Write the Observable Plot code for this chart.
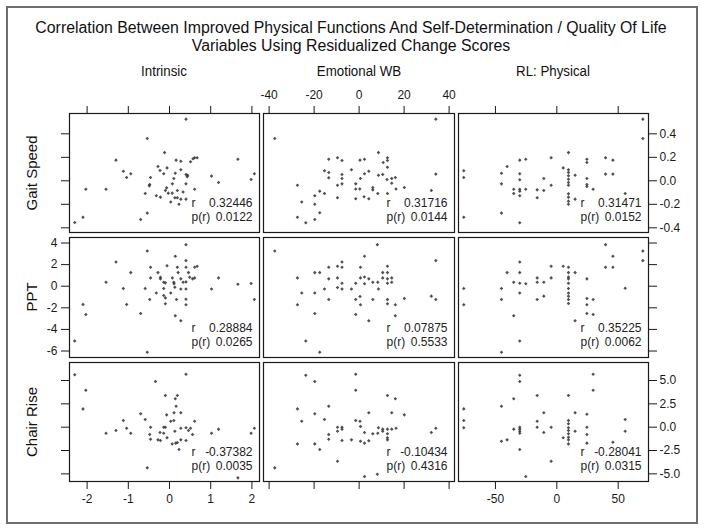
<!DOCTYPE html>
<html><head><meta charset="utf-8">
<script src="https://cdn.jsdelivr.net/npm/d3@7"></script>
<script src="https://cdn.jsdelivr.net/npm/@observablehq/plot@0.6"></script>
<style>
body{margin:0;background:#fff;font-family:"Liberation Sans",Arial,sans-serif;}
#root{position:relative;width:704px;height:531px;overflow:hidden;background:#fff;}
.frame{position:absolute;left:6px;top:6px;width:692px;height:518px;border:2px solid #6e6e6e;box-sizing:border-box;}
.t{position:absolute;white-space:nowrap;color:#111;line-height:1;}
.cell{position:absolute;}
</style></head><body><div id="root"><div class="frame"></div></div><script>
// ---------- labels ----------
const titleLines = ["Correlation Between Improved Physical Functions And Self-Determination / Quality Of Life",
                    "Variables Using Residualized Change Scores"];
const colNames = ["Intrinsic", "Emotional WB", "RL: Physical"];
const rowNames = ["Gait Speed", "PPT", "Chair Rise"];
// ---------- tick values ----------
const intrinsicTicks = [-2, -1, 0, 1, 2];
const emotionalTicks = [-40, -20, 0, 20, 40];
const physicalTicks = [-50, 0, 50];
const gaitTicks = [0.4, 0.2, 0, -0.2, -0.4];
const pptTicks = [4, 2, 0, -2, -4, -6];
const chairTicks = [5, 2.5, 0, -2.5, -5];
// ---------- correlations ----------
const rValues = [["0.32446","0.31716","0.31471"],["0.28884","0.07875","0.35225"],["-0.37382","-0.10434","-0.28041"]];
const pValues = [["0.0122","0.0144","0.0152"],["0.0265","0.5533","0.0062"],["0.0035","0.4316","0.0315"]];
// ---------- points [x, y] ----------
const gaitIntrinsic = [[0.40,0.525],[-0.54,0.36],[-0.12,0.24],[-1.30,0.176],[0.16,0.176],[0.275,0.167],[0.51,0.162],[0.57,0.187],[0.61,0.196],[0.67,0.196],[1.66,0.184],[-1.12,0.082],[-0.94,0.06],[-1.04,0.028],[-0.28,0.122],[-0.23,0.088],[-0.06,0.11],[-0.14,0.06],[0.14,0.065],[0.275,0.094],[0.40,0.054],[0.44,0.048],[0.43,0.034],[1.02,0.04],[1.19,-0.014],[1.98,0.011],[2.06,0.06],[-0.46,0.028],[0.105,0.02],[0.07,-0.026],[0.40,-0.026],[-0.49,-0.043],[-0.48,-0.031],[-2.03,-0.071],[-1.54,-0.071],[-0.07,-0.06],[-0.10,-0.082],[0.19,-0.082],[0.61,-0.071],[-0.59,-0.108],[-0.32,-0.128],[-0.22,-0.139],[-0.03,-0.105],[0.065,-0.105],[0.13,-0.145],[0.19,-0.145],[0.275,-0.156],[0.40,-0.156],[0.03,-0.18],[0.23,-0.20],[-0.54,-0.275],[-0.70,-0.33],[-2.10,-0.31],[-2.30,-0.355],[0.33,-0.096]];
const gaitEmotional = [[-37.5,0.36],[34.1,0.525],[34.1,0.057],[32.1,-0.082],[8.6,0.24],[12.6,0.196],[12.6,0.173],[10.7,0.156],[12.6,0.116],[10.5,0.054],[8.6,0.048],[12.4,0.011],[14.5,0.02],[16.1,0.028],[14.5,-0.02],[16.4,-0.07],[20.1,-0.057],[12.6,-0.108],[8.3,-0.108],[6.1,-0.077],[6.1,-0.057],[2.2,-0.136],[4.3,-0.153],[-1.5,-0.153],[0.3,-0.07],[-1.5,-0.07],[-1.5,-0.026],[0.6,0.02],[2.4,0.06],[4.3,0.082],[-3.4,0.094],[0.4,0.176],[2.4,0.184],[-7.6,0.173],[-9.6,0.196],[-13.5,0.184],[-15.4,0.085],[-13.5,0.071],[-13.5,0.026],[-7.6,0.054],[-7.6,0.02],[-7.6,-0.026],[-9.6,-0.037],[-9.6,-0.145],[-17.5,-0.088],[-15.4,-0.108],[-19.7,-0.128],[-19.7,-0.199],[-17.5,-0.272],[-19.7,-0.33],[-23.7,-0.357],[-27.4,-0.31],[-25.5,-0.18],[-27.4,-0.037]];
const gaitPhysical = [[-75.8,0.085],[-75.8,0.028],[-75.8,-0.31],[70.1,0.525],[70.1,0.36],[-45.1,0.065],[-45.1,-0.026],[-45.1,-0.275],[-40.5,0.122],[-30.2,0.176],[-25.3,0.184],[-30.2,0.06],[-30.2,0.009],[-35.1,-0.071],[-35.1,-0.108],[-30.2,-0.071],[-30.2,-0.088],[-30.2,-0.128],[-25.3,-0.071],[-30.2,-0.357],[-16.0,-0.077],[-16.0,-0.145],[-10.6,0.02],[-10.6,-0.082],[-4.6,0.196],[-4.6,-0.037],[5.2,0.11],[9.5,0.24],[9.5,0.094],[9.5,0.071],[9.5,0.043],[9.5,0.014],[9.5,-0.014],[9.5,-0.037],[9.5,-0.11],[9.5,-0.139],[9.5,-0.173],[9.5,-0.199],[14.9,0.048],[14.9,-0.156],[24.5,0.184],[24.5,0.156],[24.5,0.02],[24.5,-0.031],[24.5,-0.048],[29.6,-0.071],[39.7,0.196],[45.7,0.176],[39.7,0.057],[45.7,0.057],[55.7,-0.108]];
const pptIntrinsic = [[0.40,3.85],[-0.54,3.26],[0.14,2.77],[-1.30,2.25],[0.40,2.37],[0.40,1.75],[0.67,1.85],[0.61,1.75],[-0.46,1.75],[-0.06,1.9],[0.19,1.75],[-0.94,1.26],[-0.28,1.26],[0.21,1.26],[0.46,1.26],[-0.22,0.83],[-0.22,0.68],[-0.46,0.77],[0.07,0.77],[0.275,0.68],[0.49,0.83],[0.56,0.68],[0.61,0.77],[1.19,0.77],[-1.54,0.37],[-0.14,0.37],[-0.10,0.31],[0.105,0.37],[0.11,0.22],[0.33,0.37],[0.40,0.4],[1.66,0.18],[1.98,0.25],[-1.12,-0.22],[-0.59,-0.22],[-0.14,-0.22],[0.13,-0.09],[0.275,-0.25],[0.40,-0.25],[1.02,-0.25],[-0.32,-0.62],[0.03,-0.62],[-0.14,-0.86],[-0.10,-1.08],[-0.48,-1.23],[0.17,-1.23],[0.40,-1.2],[2.06,-1.23],[-0.10,-1.63],[0.40,-1.72],[-1.04,-1.69],[-2.10,-1.69],[-2.03,-2.62],[-0.70,-2.52],[0.14,-2.74],[0.275,-3.2],[-2.30,-5.08],[-0.54,-6.12]];
const pptEmotional = [[-37.5,3.26],[8.1,3.85],[2.4,2.77],[34.1,2.37],[-7.6,2.25],[-9.6,1.85],[-7.6,1.75],[-13.5,1.75],[0.6,1.75],[12.6,1.85],[-19.7,1.26],[-17.5,1.26],[10.5,1.26],[12.6,1.26],[-27.4,0.77],[-13.5,0.68],[-9.6,0.77],[0.6,0.77],[2.4,0.86],[4.3,0.68],[10.5,0.77],[12.6,0.68],[14.5,0.77],[-7.6,0.28],[-1.5,0.28],[2.4,0.22],[6.1,0.37],[8.3,0.37],[12.6,0.28],[14.5,0.37],[-9.6,-0.12],[-15.4,-0.25],[-7.6,-0.25],[-3.4,-0.25],[8.6,-0.25],[-25.5,-0.62],[-19.7,-0.62],[0.4,-0.95],[-13.5,-1.23],[-1.5,-1.23],[6.1,-1.23],[12.6,-1.23],[20.1,-1.14],[32.1,-0.92],[34.1,-1.23],[-27.4,-1.72],[0.6,-1.72],[12.6,-1.63],[16.1,-1.72],[-19.7,-2.52],[-1.5,-2.62],[16.1,-2.74],[4.3,-3.2],[-23.7,-5.08],[-17.5,-6.12]];
const pptPhysical = [[39.7,3.85],[45.7,2.77],[70.1,3.26],[70.1,2.37],[39.7,1.75],[45.7,1.75],[-30.2,2.25],[-4.6,1.85],[5.2,1.85],[9.5,1.75],[9.5,1.26],[14.9,1.26],[-40.5,1.26],[-30.2,1.26],[-16.0,0.77],[-4.6,0.77],[9.5,0.86],[9.5,0.68],[24.5,0.68],[-35.1,0.37],[-30.2,0.28],[-25.3,0.22],[-16.0,0.37],[-10.6,0.37],[9.5,0.28],[-75.8,-0.22],[-45.1,-0.22],[9.5,-0.22],[9.5,-0.62],[55.7,-0.18],[-30.2,-0.62],[9.5,-0.92],[-10.6,-0.92],[-16.0,-1.23],[-45.1,-1.23],[9.5,-1.23],[24.5,-1.14],[29.6,-1.23],[9.5,-1.6],[24.5,-1.72],[-75.8,-1.72],[-35.1,-2.74],[24.5,-2.52],[29.6,-2.62],[14.9,-3.2],[-30.2,-5.08],[-45.1,-6.12]];
const chairIntrinsic = [[-2.30,5.61],[0.40,5.68],[-0.34,4.89],[-2.03,3.96],[-0.10,3.39],[0.19,3.39],[0.14,3.04],[-2.10,1.96],[0.16,2.25],[-0.70,1.43],[-0.07,1.32],[0.11,1.54],[0.275,1.54],[-0.59,0.82],[-1.12,0.71],[0.03,0.64],[0.105,0.71],[0.61,0.64],[-0.14,0],[-0.10,0],[-0.46,0],[-1.04,-0.11],[-1.30,-0.36],[-1.54,-0.64],[-0.94,-0.64],[-0.23,-0.57],[-0.14,-0.64],[0.13,-0.43],[0.275,-0.11],[0.40,-0.07],[0.46,-0.36],[0.51,-0.11],[0.56,-0.79],[-0.48,-0.79],[-0.46,-1.29],[-0.28,-1.36],[-0.22,-1.43],[-0.06,-1.14],[0.275,-1.36],[0.40,-1.43],[0.065,-1.79],[0.15,-1.71],[0.19,-1.64],[0.23,-2.39],[1.19,-0.21],[1.02,-0.64],[1.98,-0.64],[2.06,-0.11],[-0.54,-4.36],[1.66,-5.43]];
const chairEmotional = [[-23.7,5.57],[-1.5,5.68],[-19.7,4.89],[-1.5,3.96],[12.6,3.39],[16.1,3.04],[-13.5,2.25],[-27.4,1.96],[4.3,1.54],[14.5,1.54],[20.1,1.32],[-19.7,1.43],[-25.5,0.64],[-15.4,0.82],[-1.5,0.71],[0.4,0.64],[-9.6,0],[-7.6,0],[-9.6,-0.43],[-7.6,-0.21],[-13.5,-0.79],[-13.5,-1.29],[-7.6,-1.43],[-3.4,-1.36],[0.6,0.07],[2.4,-0.57],[6.1,-0.71],[8.3,-0.64],[8.6,-0.07],[10.5,-0.43],[10.5,-0.21],[12.6,-0.21],[12.6,-0.71],[12.6,-1.14],[12.6,-1.36],[14.5,-0.21],[16.4,-0.11],[0.6,-1.5],[2.4,-1.71],[4.3,-1.46],[-27.4,-1.79],[-19.7,-1.79],[-17.5,-2.39],[-9.6,-3.64],[-37.5,-4.36],[2.4,-5.29],[8.1,-5.04],[32.1,-0.57],[34.1,-0.11]];
const chairPhysical = [[-30.2,5.57],[-30.2,4.89],[29.6,5.68],[29.6,3.96],[-16.0,3.39],[9.5,3.39],[-35.1,3.04],[-45.1,2.25],[-75.8,1.96],[-75.8,0.71],[-75.8,-0.07],[-10.6,1.54],[14.9,1.54],[24.5,1.39],[-16.0,0.64],[-16.0,0],[-10.6,-0.57],[-4.6,0],[-35.1,-0.21],[-30.2,0],[-30.2,-0.21],[-30.2,-0.43],[-30.2,-0.64],[9.5,0.71],[9.5,0.36],[9.5,-0.07],[9.5,-0.36],[9.5,-0.71],[9.5,-1.07],[9.5,-1.36],[9.5,-1.79],[14.9,-0.43],[24.5,0],[24.5,-0.79],[24.5,-1.71],[5.2,-1.14],[-45.1,-1.5],[-40.5,-1.36],[-30.2,-2.39],[-4.6,-3.64],[-25.3,-5.29],[45.7,-1.61],[55.7,0.82],[55.7,-0.43]];
const panels = [[gaitIntrinsic, gaitEmotional, gaitPhysical],
                [pptIntrinsic, pptEmotional, pptPhysical],
                [chairIntrinsic, chairEmotional, chairPhysical]];

// ---------- layout ----------
const colX = [69, 263, 458], colW = [190, 191, 190];
const rowY = [113, 237, 362], rowH = [119, 120, 119];
const xDomains = [[-2.427, 2.184], [-42.5, 42.4], [-80.1, 74.7]];
const yDomains = [[-0.44, 0.573], [-6.6, 4.51], [-5.82, 6.93]];
const xTicks = [intrinsicTicks, emotionalTicks, physicalTicks];
const yTicks = [gaitTicks, pptTicks, chairTicks];
const intFmt = d => String(d);
const decFmt = d => d.toFixed(1);
const xFmt = [intFmt, intFmt, intFmt];
const yFmt = [decFmt, intFmt, decFmt];
const blank = () => "";
const M = 46;
const root = document.getElementById("root");

function addText(txt, x, y, size, opts = {}) {
  const d = document.createElement("div");
  d.className = "t";
  d.textContent = txt;
  d.style.fontSize = size + "px";
  d.style.left = x + "px";
  d.style.top = y + "px";
  d.style.transform = opts.transform || "translate(-50%,-50%)";
  if (opts.sx) d.style.transform += ` scaleX(${opts.sx})`;
  root.appendChild(d);
  return d;
}

addText(titleLines[0], 351, 28, 16, {sx: 0.99});
addText(titleLines[1], 351, 46, 16, {sx: 0.99});
colNames.forEach((n, c) => addText(n, colX[c] + colW[c] / 2, 71, 14, {sx: 0.95}));
rowNames.forEach((n, r) => addText(n, 31, rowY[r] + rowH[r] / 2, 15, {transform: "translate(-50%,-50%) rotate(-90deg)"}));

for (let r = 0; r < 3; r++) {
  for (let c = 0; c < 3; c++) {
    const marks = [];
    const tickOpts = {tickSize: 8, label: null};
    let hasX = false, hasY = false;
    if (r === 0) { hasX = true; marks.push(Plot.axisX(xTicks[c], {...tickOpts, anchor: "top", tickPadding: 7, tickFormat: c === 1 ? xFmt[c] : blank})); }
    if (r === 2) { hasX = true; marks.push(Plot.axisX(xTicks[c], {...tickOpts, anchor: "bottom", tickPadding: 5, tickFormat: c !== 1 ? xFmt[c] : blank})); }
    if (c === 0) { hasY = true; marks.push(Plot.axisY(yTicks[r], {...tickOpts, anchor: "left", tickPadding: 4, tickFormat: r === 1 ? yFmt[r] : blank})); }
    if (c === 2) { hasY = true; marks.push(Plot.axisY(yTicks[r], {...tickOpts, anchor: "right", tickPadding: 3, tickFormat: r !== 1 ? yFmt[r] : blank})); }
    marks.push(Plot.frame({stroke: "#1a1a1a", strokeWidth: 1.2}));
    marks.push(Plot.dot(panels[r][c], {x: d => d[0], y: d => d[1], r: 1.6, fill: "#333", fillOpacity: 0.85, stroke: null, symbol: "diamond2"}));
    marks.push(Plot.text(["r"], {text: d => d, frameAnchor: "bottom-right", textAnchor: "start", dx: -68, dy: -26, fontSize: 12, fill: "#222"}));
    marks.push(Plot.text(["p(r)"], {text: d => d, frameAnchor: "bottom-right", textAnchor: "start", dx: -68, dy: -12, fontSize: 12, fill: "#222"}));
    marks.push(Plot.text([rValues[r][c]], {text: d => d, frameAnchor: "bottom-right", textAnchor: "end", dx: -7, dy: -26, fontSize: 12, fill: "#222"}));
    marks.push(Plot.text([pValues[r][c]], {text: d => d, frameAnchor: "bottom-right", textAnchor: "end", dx: -7, dy: -12, fontSize: 12, fill: "#222"}));
    const svg = Plot.plot({
      width: colW[c] + 2 * M, height: rowH[r] + 2 * M,
      marginLeft: M, marginRight: M, marginTop: M, marginBottom: M,
      style: {background: "transparent", overflow: "visible", fontFamily: "'Liberation Sans', Arial, sans-serif", fontSize: "12px", color: "#1a1a1a"},
      x: {domain: xDomains[c], ...(hasX ? {} : {axis: null})},
      y: {domain: yDomains[r], ...(hasY ? {} : {axis: null})},
      marks
    });
    const wrap = document.createElement("div");
    wrap.className = "cell";
    wrap.style.left = (colX[c] - M) + "px";
    wrap.style.top = (rowY[r] - M) + "px";
    wrap.appendChild(svg);
    root.appendChild(wrap);
  }
}
</script></body></html>
